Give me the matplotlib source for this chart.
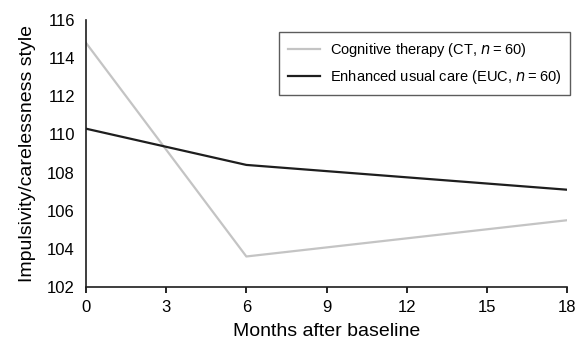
import matplotlib
matplotlib.use("Agg")
import matplotlib.pyplot as plt

months = [0, 6, 18]
ct_scores = [114.8, 103.6, 105.5]
euc_scores = [110.3, 108.4, 107.1]
x_ticks = [0, 3, 6, 9, 12, 15, 18]
y_ticks = [102, 104, 106, 108, 110, 112, 114, 116]

plt.rcParams["font.family"] = ["Liberation Sans", "DejaVu Sans"]

fig = plt.figure(figsize=(5.81, 3.5), dpi=100)
ax = fig.add_axes([0.148, 0.18, 0.828, 0.763])

ax.plot(months, ct_scores, color="#c4c4c4", linewidth=1.6,
        label="Cognitive therapy (CT, $\\it{n}$\u2009=\u200960)")
ax.plot(months, euc_scores, color="#1e1e1e", linewidth=1.6,
        label="Enhanced usual care (EUC, $\\it{n}$\u2009=\u200960)")

ax.set_xlim(0, 18)
ax.set_ylim(102, 116)
ax.set_xticks(x_ticks)
ax.set_yticks(y_ticks)
ax.tick_params(axis="x", direction="out", length=4, width=1.2, labelsize=12, pad=5)
ax.tick_params(axis="y", length=0, labelsize=12, pad=8)
for side in ("top", "right"):
    ax.spines[side].set_visible(False)
for side in ("left", "bottom"):
    ax.spines[side].set_linewidth(1.2)
    ax.spines[side].set_color("#1e1e1e")

ax.set_xlabel("Months after baseline", fontsize=14, labelpad=6)
ax.set_ylabel("Impulsivity/carelessness style", fontsize=14, labelpad=8)

leg = ax.legend(loc="upper right", bbox_to_anchor=(1.015, 0.97), fontsize=10.5,
                frameon=True, fancybox=False, edgecolor="#333333",
                handlelength=2.2, handletextpad=0.7, borderpad=0.6,
                labelspacing=0.6, borderaxespad=0.3)
leg.get_frame().set_linewidth(1.0)

fig.savefig("out.png", dpi=100)
